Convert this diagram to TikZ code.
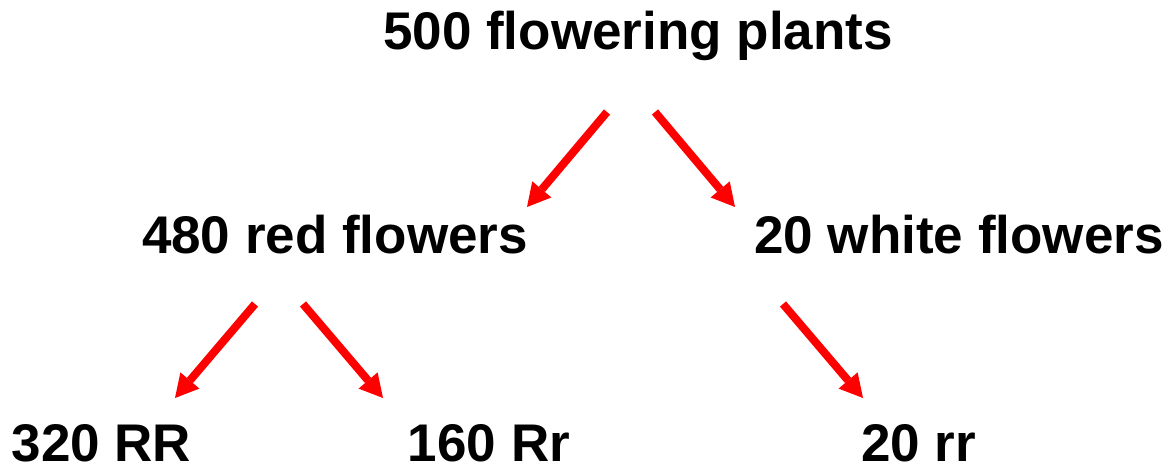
\documentclass[tikz,border=0pt]{standalone}
\usepackage{fontspec}
\setmainfont{Liberation Sans}
\usetikzlibrary{arrows.meta}
\tikzset{
  lbl/.style={anchor=base, inner sep=0pt, font=\bfseries\fontsize{53}{60}\selectfont},
  redarrow/.style={draw=red, line width=8pt, line cap=butt,
    -{Triangle[length=23pt,width=25pt,line width=0pt,fill=red]}}
}
\begin{document}
\begin{tikzpicture}[x=1pt,y=-1pt]
\useasboundingbox (0,0) rectangle (1169,465);
\node[lbl] (top) at (638,50) {500 flowering plants};
\node[lbl] (red) at (335,253) {480 red flowers};
\node[lbl] (white) at (959,253) {20 white flowers};
\node[lbl, text depth=0pt] (RR) at (101.5,461.5) {320 RR};
\node[lbl, text depth=0pt] (Rr) at (489,461.5) {160 Rr};
\node[lbl, text depth=0pt] (rr) at (918.5,461.5) {20 rr};
\coordinate (a1s) at (607,112); \coordinate (a1e) at (527,207);
\coordinate (a2s) at (655,112); \coordinate (a2e) at (735,207);
\coordinate (a3s) at (255,304); \coordinate (a3e) at (175,398);
\coordinate (a4s) at (303,304); \coordinate (a4e) at (383,398);
\coordinate (a5s) at (783,304); \coordinate (a5e) at (863,398);
\draw[redarrow] (a1s) -- (a1e);
\draw[redarrow] (a2s) -- (a2e);
\draw[redarrow] (a3s) -- (a3e);
\draw[redarrow] (a4s) -- (a4e);
\draw[redarrow] (a5s) -- (a5e);
\end{tikzpicture}
\end{document}
